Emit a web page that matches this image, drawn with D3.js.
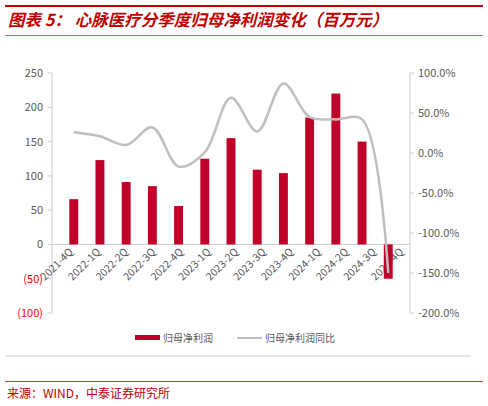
<!DOCTYPE html><html><head><meta charset="utf-8"><script src="https://cdn.jsdelivr.net/npm/d3@7"></script>
<style>body{margin:0;background:#fff}text{font-family:"Noto Sans CJK SC",Arial,sans-serif}</style></head><body>
<svg id="c" width="488" height="406"></svg>
<script>
const categories=["2021-4Q","2022-1Q","2022-2Q","2022-3Q","2022-4Q","2023-1Q","2023-2Q","2023-3Q","2023-4Q","2024-1Q","2024-2Q","2024-3Q","2024-4Q"];
const profit=[66,123,91,85,56,125,155,109,104,185,220,150,-50];
const yoy=[26,21,10,32,-17,1,69,27,87,45,42,42,-150];
const leftTicks=[-100,-50,0,50,100,150,200,250];
const rightTicks=[-200,-150,-100,-50,0,50,100];
const svg=d3.select("#c");
svg.append("rect").attr("x",5).attr("y",5).attr("width",478).attr("height",2).attr("fill","#c00000");
svg.append("text").attr("x",8).attr("y",26).attr("fill","#c00000").attr("font-size",16.5).attr("font-weight","bold").attr("font-style","italic").text("图表 5：  心脉医疗分季度归母净利润变化（百万元）");
svg.append("rect").attr("x",5).attr("y",35).attr("width",478).attr("height",1).attr("fill","#d06060");
const x=d3.scaleBand().domain(categories).range([52,410]).padding(0.66);
const yl=d3.scaleLinear().domain([-100,250]).range([313,73]);
const yr=d3.scaleLinear().domain([-200,100]).range([313,73]);
const g=svg.append("g");
g.append("line").attr("x1",52).attr("x2",52).attr("y1",73).attr("y2",313).attr("stroke","#ccc");
g.append("line").attr("x1",410).attr("x2",410).attr("y1",73).attr("y2",313).attr("stroke","#ccc");
leftTicks.forEach(t=>{g.append("line").attr("x1",48).attr("x2",52).attr("y1",yl(t)).attr("y2",yl(t)).attr("stroke","#ccc");
 g.append("text").attr("x",43).attr("y",yl(t)+4).attr("text-anchor","end").attr("font-size",11).attr("fill",t<0?"#ff0000":"#595959").text(t<0?"("+(-t)+")":t);});
rightTicks.forEach(t=>{g.append("line").attr("x1",410).attr("x2",414).attr("y1",yr(t)).attr("y2",yr(t)).attr("stroke","#ccc");
 g.append("text").attr("x",418).attr("y",yr(t)+4).attr("font-size",11).attr("fill","#595959").text(t.toFixed(1)+"%");});
g.append("line").attr("x1",52).attr("x2",410).attr("y1",yl(0)).attr("y2",yl(0)).attr("stroke","#ccc");
categories.forEach((c,i)=>{const xc=52+(i+0.5)*(358/13);
 g.append("text").attr("transform",`translate(${xc+8},${yl(0)+8}) rotate(-45)`).attr("text-anchor","end").attr("font-size",10.5).attr("fill","#595959").text(c);});
g.selectAll(".b").data(profit).join("rect").attr("x",(d,i)=>x(categories[i])).attr("width",x.bandwidth())
 .attr("y",d=>yl(Math.max(0,d))).attr("height",d=>Math.abs(yl(d)-yl(0))).attr("fill","#c00028");
const line=d3.line().x((d,i)=>x(categories[i])+x.bandwidth()/2).y(d=>yr(d)).curve(d3.curveCatmullRom.alpha(0.5));
g.append("path").attr("d",line(yoy)).attr("fill","none").attr("stroke","#bfbfbf").attr("stroke-width",2.5);
svg.append("rect").attr("x",135).attr("y",335).attr("width",25).attr("height",5).attr("fill","#c00028");
svg.append("text").attr("x",163).attr("y",342).attr("font-size",10).attr("fill","#595959").text("归母净利润");
svg.append("line").attr("x1",237).attr("x2",262).attr("y1",338).attr("y2",338).attr("stroke","#bfbfbf").attr("stroke-width",2);
svg.append("text").attr("x",265).attr("y",342).attr("font-size",10).attr("fill","#595959").text("归母净利润同比");
svg.append("line").attr("x1",6).attr("x2",471).attr("y1",356).attr("y2",356).attr("stroke","#ccc");
svg.append("rect").attr("x",5).attr("y",381).attr("width",478).attr("height",1).attr("fill","#e03030");
svg.append("text").attr("x",7).attr("y",398).attr("font-size",12).attr("fill","#c00000").text("来源：WIND，中泰证券研究所");
</script></body></html>
